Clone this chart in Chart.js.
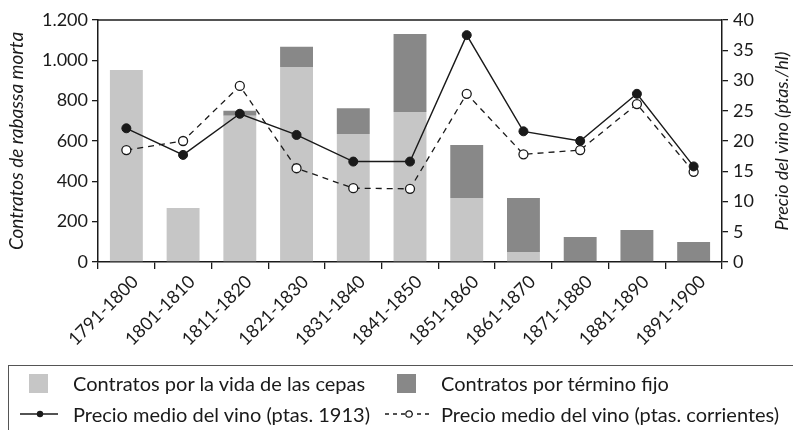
<!DOCTYPE html>
<html>
<head>
<meta charset="utf-8">
<script src="https://cdn.jsdelivr.net/npm/chart.js@4/dist/chart.umd.min.js"></script>
<style>
  body { margin: 0; background: #fff; font-family: Lato, "Open Sans", sans-serif; color: #1a1a1a; }
  #wrap { position: relative; width: 793px; height: 430px; overflow: hidden; }
  #chart { position: absolute; left: 0; top: 0; }
  .legend { position: absolute; left: 8px; top: 365px; width: 820px; height: 90px; border: 1.5px solid #555; box-sizing: border-box; }
  .item { position: absolute; font-size: 20px; line-height: 24px; white-space: nowrap; }
  .sw { position: absolute; width: 19px; height: 19px; }
  svg { position: absolute; }
</style>
</head>
<body>
<div id="wrap">
  <canvas id="chart" width="793" height="430"></canvas>
  <div class="legend">
    <div class="sw" style="left:20px;top:8px;background:#c6c6c6"></div>
    <div class="item" style="left:64px;top:5px">Contratos por la vida de las cepas</div>
    <div class="sw" style="left:388px;top:8px;background:#888"></div>
    <div class="item" style="left:432px;top:5px">Contratos por término fijo</div>
    <svg style="left:10px;top:38px" width="40" height="20">
      <line x1="1" y1="10" x2="39" y2="10" stroke="#1a1a1a" stroke-width="1.5"/>
      <circle cx="21" cy="10" r="3.2" fill="#1a1a1a"/>
    </svg>
    <div class="item" style="left:64px;top:36px">Precio medio del vino (ptas. 1913)</div>
    <svg style="left:374px;top:38px" width="48" height="20">
      <line x1="2" y1="10" x2="46" y2="10" stroke="#1a1a1a" stroke-width="1.3" stroke-dasharray="4,4"/>
      <circle cx="26" cy="10" r="3.2" fill="#fff" stroke="#1a1a1a" stroke-width="1.2"/>
    </svg>
    <div class="item" style="left:432px;top:36px">Precio medio del vino (ptas. corrientes)</div>
  </div>
</div>
<script>
const periods = ['1791-1800', '1801-1810', '1811-1820', '1821-1830', '1831-1840', '1841-1850',
                 '1851-1860', '1861-1870', '1871-1880', '1881-1890', '1891-1900']
const vidaCepas = [952, 268, 725, 967, 635, 744, 317, 50, 0, 0, 0]
const terminoFijo = [0, 0, 25, 100, 128, 386, 263, 267, 124, 159, 99]
const precio1913 = [22.1, 17.7, 24.5, 21.0, 16.6, 16.6, 37.5, 21.6, 20.0, 27.8, 15.8]
const precioCorrientes = [18.5, 20.0, 29.1, 15.5, 12.2, 12.1, 27.8, 17.8, 18.5, 26.1, 14.9]

const ink = '#1a1a1a'
const fontFamily = 'Lato, "Open Sans", sans-serif'

// top frame line and right-hand title (reads bottom to top)
const extras = {
    id: 'extras',
    afterDraw(chart) {
        let { ctx, chartArea } = chart
        ctx.save()
        ctx.strokeStyle = ink
        ctx.lineWidth = 1.5
        ctx.beginPath()
        ctx.moveTo(chartArea.left, chartArea.top)
        ctx.lineTo(chartArea.right, chartArea.top)
        ctx.stroke()
        ctx.translate(782, (chartArea.top + chartArea.bottom) / 2)
        ctx.rotate(-Math.PI / 2)
        ctx.fillStyle = ink
        ctx.font = 'italic 18px ' + fontFamily
        ctx.textAlign = 'center'
        ctx.textBaseline = 'middle'
        ctx.fillText('Precio del vino (ptas./hl)', 0, 0)
        ctx.restore()
    }
}

new Chart(document.getElementById('chart').getContext('2d'), {
    type: 'bar',
    data: {
        labels: periods,
        datasets: [
            {
                type: 'line', label: 'Precio medio del vino (ptas. 1913)', data: precio1913,
                yAxisID: 'y1', order: 0, borderColor: ink, borderWidth: 1.4,
                pointRadius: 4.5, pointBackgroundColor: ink, pointBorderColor: ink, pointBorderWidth: 1
            },
            {
                type: 'line', label: 'Precio medio del vino (ptas. corrientes)', data: precioCorrientes,
                yAxisID: 'y1', order: 0, borderColor: ink, borderWidth: 1.3, borderDash: [6, 5],
                pointRadius: 4.5, pointBackgroundColor: '#fff', pointBorderColor: ink, pointBorderWidth: 1.3
            },
            {
                label: 'Contratos por la vida de las cepas', data: vidaCepas, yAxisID: 'y', order: 1,
                backgroundColor: '#c6c6c6', barPercentage: 0.58, categoryPercentage: 1
            },
            {
                label: 'Contratos por término fijo', data: terminoFijo, yAxisID: 'y', order: 1,
                backgroundColor: '#888888', barPercentage: 0.58, categoryPercentage: 1
            }
        ]
    },
    options: {
        responsive: false,
        animation: false,
        devicePixelRatio: 1,
        layout: { padding: { top: 20, left: 0, right: 0, bottom: 0 } },
        plugins: { legend: { display: false }, tooltip: { enabled: false } },
        scales: {
            x: {
                stacked: true,
                offset: true,
                grid: { offset: true, drawOnChartArea: false, tickLength: 7, color: ink, lineWidth: 1.3 },
                border: { color: ink, width: 1.5 },
                ticks: {
                    color: ink, font: { family: fontFamily, size: 18 }, maxRotation: 45, minRotation: 45,
                    autoSkip: false, padding: 2, labelOffset: 9
                },
                afterFit(scale) { scale.height = 168 }
            },
            y: {
                stacked: true,
                position: 'left',
                min: 0, max: 1200,
                grid: { drawOnChartArea: false, tickLength: 6, color: ink, lineWidth: 1.3 },
                border: { color: ink, width: 1.5 },
                ticks: {
                    stepSize: 200, color: ink, padding: 4,
                    font: { family: fontFamily, size: 18 },
                    callback: (v) => v.toLocaleString('de-DE')
                },
                title: {
                    display: true, text: 'Contratos de rabassa morta', color: ink,
                    font: { family: fontFamily, size: 19, style: 'italic' }, padding: { top: 5, bottom: 0 }
                },
                afterFit(scale) { scale.width = 98 }
            },
            y1: {
                stacked: false,
                position: 'right',
                min: 0, max: 40,
                grid: { drawOnChartArea: false, tickLength: 6, color: ink, lineWidth: 1.3 },
                border: { color: ink, width: 1.5 },
                ticks: { stepSize: 5, color: ink, padding: 5, font: { family: fontFamily, size: 18 } },
                afterFit(scale) { scale.width = 71 }
            }
        }
    },
    plugins: [extras]
})
</script>
</body>
</html>
